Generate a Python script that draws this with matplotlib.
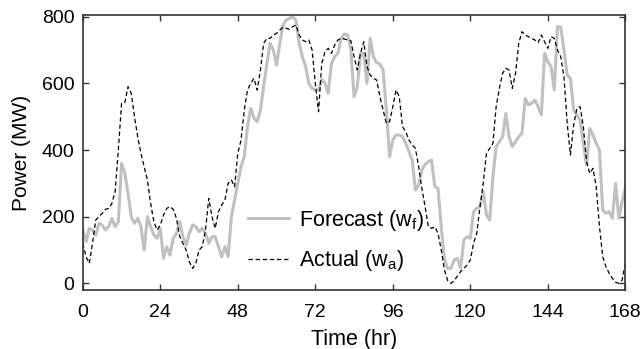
import numpy as np
import matplotlib
matplotlib.use("Agg")
import matplotlib.pyplot as plt

plt.rcParams['font.family'] = ['Liberation Sans', 'DejaVu Sans']
plt.rcParams['mathtext.fontset'] = 'custom'
plt.rcParams['mathtext.rm'] = 'Liberation Sans'
plt.rcParams['mathtext.it'] = 'Liberation Sans'

# hourly wind power, one week (MW)
hours = np.arange(0, 169)

forecast = [
    160, 125, 165, 160, 145, 180, 175, 160, 170, 195, 170, 185, 360, 330, 270, 200,
    180, 195, 170, 100, 200, 170, 145, 135, 165, 75, 110, 85, 135, 150, 185, 140,
    115, 150, 175, 170, 155, 165, 150, 120, 140, 140, 110, 80, 110, 80, 200, 250,
    300, 350, 380, 470, 525, 495, 485, 520, 590, 660, 720, 700, 655, 720, 775, 790,
    795, 800, 790, 720, 680, 650, 600, 585, 580, 580, 612, 600, 570, 660, 680, 690,
    735, 748, 745, 700, 560, 590, 690, 690, 600, 735, 680, 662, 658, 640, 520, 380,
    430, 445, 445, 440, 420, 395, 370, 280, 295, 340, 357, 365, 370, 290, 285, 170,
    70, 45, 45, 70, 75, 45, 130, 140, 135, 215, 225, 230, 275, 205, 190, 320,
    410, 425, 440, 510, 440, 410, 425, 440, 450, 555, 535, 540, 550, 530, 505, 690,
    665, 650, 580, 770, 770, 700, 625, 615, 520, 505, 490, 420, 355, 465, 445, 420,
    400, 220, 210, 215, 195, 300, 195, 245, 285,
]

actual = [
    120, 80, 60, 120, 190, 200, 210, 222, 225, 240, 275, 400, 540, 542, 590, 570,
    500, 440, 390, 350, 310, 240, 185, 160, 175, 205, 225, 230, 222, 195, 140, 120,
    100, 65, 45, 60, 100, 110, 160, 255, 200, 165, 215, 235, 250, 300, 310, 290,
    390, 430, 520, 580, 600, 615, 580, 640, 720, 735, 735, 745, 750, 760, 768, 765,
    762, 770, 775, 745, 730, 725, 730, 700, 600, 515, 660, 695, 705, 690, 715, 730,
    735, 733, 730, 728, 680, 640, 690, 725, 650, 625, 615, 610, 560, 520, 480, 485,
    530, 580, 560, 470, 455, 430, 415, 405, 350, 285, 230, 170, 165, 170, 150, 100,
    40, 8, 0, 8, 22, 35, 45, 55, 70, 120, 150, 230, 300, 390, 405, 420,
    530, 585, 630, 645, 640, 585, 630, 720, 755, 745, 740, 735, 730, 722, 745, 725,
    705, 740, 735, 700, 680, 620, 480, 385, 475, 525, 530, 470, 365, 330, 345, 290,
    170, 80, 50, 30, 15, 3, 0, 10, 60,
]

xticks = [0, 24, 48, 72, 96, 120, 144, 168]
yticks = [0, 200, 400, 600, 800]

fig = plt.figure(figsize=(6.42, 3.49), dpi=100)
ax = fig.add_axes([0.129, 0.169, 0.845, 0.788])

ax.plot(hours, forecast, color='#c0c0c0', lw=2.2, label=r'Forecast (w$_\mathrm{f}$)')
ax.plot(hours, actual, color='black', lw=0.9, linestyle=(0, (3.5, 2.2)),
        label=r'Actual (w$_\mathrm{a}$)')

ax.set_xlim(0, 168)
ax.set_ylim(-20, 805)
ax.set_xticks(xticks)
ax.set_yticks(yticks)
ax.tick_params(direction='in', top=True, right=True, labelsize=14,
               length=4, width=1, color='#333333')
ax.tick_params(axis='x', pad=10)
ax.tick_params(axis='y', pad=6)
for s in ax.spines.values():
    s.set_color('#333333')
    s.set_linewidth(1.2)

ax.set_xlabel('Time (hr)', fontsize=15.5, labelpad=6)
ax.set_ylabel('Power (MW)', fontsize=15, labelpad=8)

ax.legend(loc='upper left', bbox_to_anchor=(248 / 642, 1 - 208 / 349),
          bbox_transform=fig.transFigure, frameon=False, fontsize=15.5,
          handlelength=1.9, handletextpad=0.45, labelspacing=0.7,
          borderpad=0, borderaxespad=0)

fig.savefig('out.png', dpi=100)
